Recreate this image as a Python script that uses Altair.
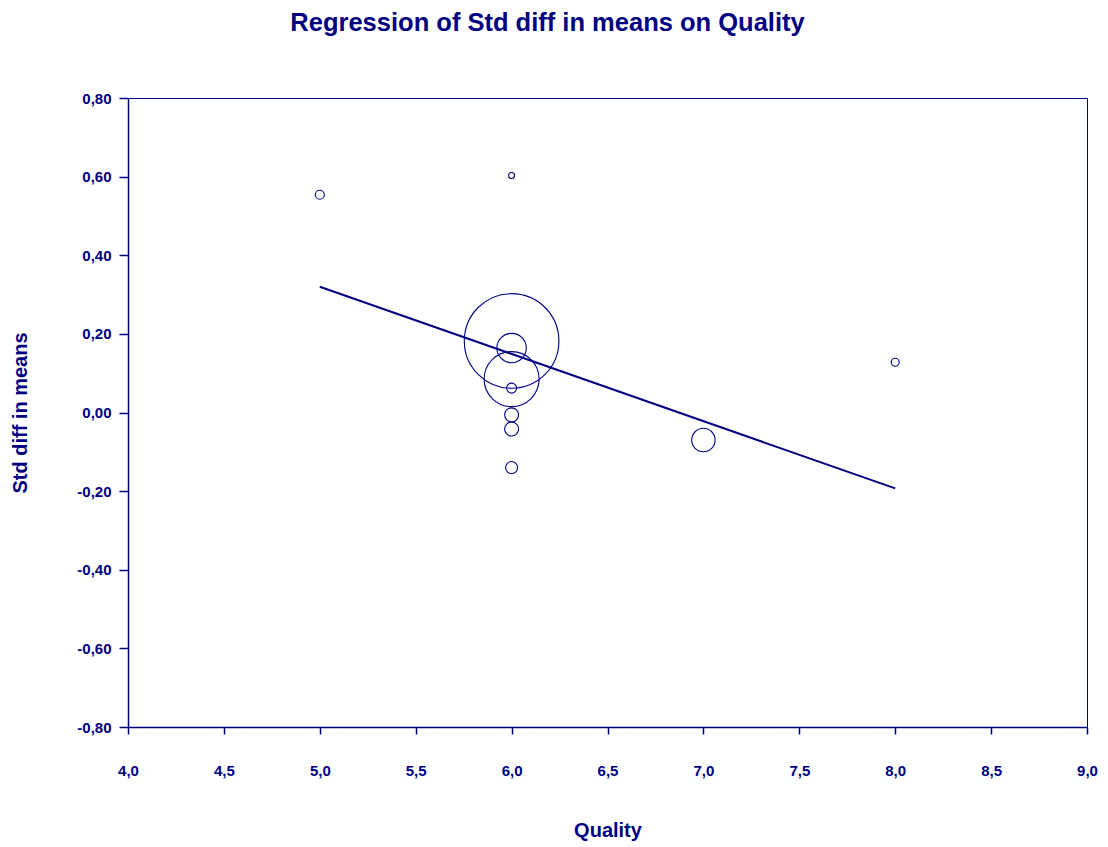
import altair as alt
import pandas as pd

quality = [5.0, 6.0, 6.0, 6.0, 6.0, 6.0, 6.0, 6.0, 6.0, 7.0, 8.0]
smd = [0.554, 0.603, 0.182, 0.164, 0.085, 0.062, -0.006, -0.042, -0.140, -0.070, 0.128]
weight = [20, 9, 2237, 216, 756, 25, 49, 49, 36, 137, 16]

line_x = [5.0, 8.0]
line_y = [0.320, -0.193]

NAVY = "#000080"
FONT = "Liberation Sans"

pts = pd.DataFrame({"Quality": quality, "SMD": smd, "w": weight})
ln = pd.DataFrame({"Quality": line_x, "SMD": line_y})

xs = alt.Scale(domain=[4, 9], nice=False, zero=False)
ys = alt.Scale(domain=[-0.8, 0.8], nice=False, zero=False)

ylab = "(datum.value < 0 ? '-' : '') + replace(format(abs(datum.value), '.2f'), '.', ',')"
xlab = "replace(format(datum.value, '.1f'), '.', ',')"

xaxis = alt.Axis(values=[4, 4.5, 5, 5.5, 6, 6.5, 7, 7.5, 8, 8.5, 9], labelExpr=xlab,
                 title="Quality", grid=False, tickSize=7, labelPadding=29,
                 titlePadding=42, labelFlush=False, labelOverlap=False)
yaxis = alt.Axis(values=[-0.8, -0.6, -0.4, -0.2, 0, 0.2, 0.4, 0.6, 0.8], labelExpr=ylab,
                 title="Std diff in means", grid=False, tickSize=9, labelPadding=8,
                 titlePadding=46, labelFlush=False, labelOverlap=False)

points = alt.Chart(pts).mark_point(shape="circle", filled=False, color=NAVY, strokeWidth=1.1, opacity=1).encode(
    x=alt.X("Quality:Q", scale=xs, axis=xaxis),
    y=alt.Y("SMD:Q", scale=ys, axis=yaxis),
    size=alt.Size("w:Q", scale=alt.Scale(type="linear", domain=[0, 2237], range=[0, 4 * 2237]), legend=None),
)

line = alt.Chart(ln).mark_line(color=NAVY, strokeWidth=2).encode(
    x=alt.X("Quality:Q", scale=xs),
    y=alt.Y("SMD:Q", scale=ys),
)

chart = alt.layer(line, points).properties(
    width=959, height=629,
    autosize=alt.AutoSizeParams(type="none"),
    padding={"left": 120, "top": 90, "right": 12, "bottom": 119},
    title=alt.TitleParams("Regression of Std diff in means on Quality", fontSize=25.5, font=FONT,
                          fontWeight="bold", color=NAVY, dx=-60, offset=55),
).configure_view(stroke=NAVY, strokeWidth=1).configure_axis(
    domainColor=NAVY, domainWidth=1.5, tickColor=NAVY, tickWidth=1.5,
    labelFont=FONT, labelFontSize=15, labelFontWeight="bold", labelColor=NAVY,
    titleFont=FONT, titleFontSize=20, titleFontWeight="bold", titleColor=NAVY,
)

chart.save("out.html", embed_options={"renderer": "svg", "actions": False})
